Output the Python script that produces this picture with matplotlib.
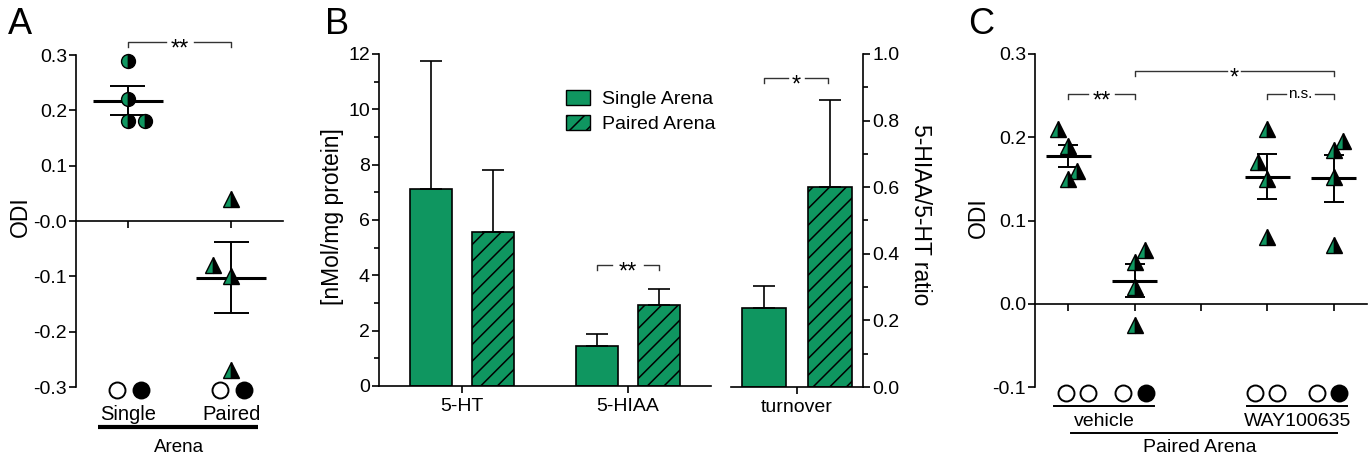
import numpy as np
import matplotlib.pyplot as plt
from matplotlib.patches import Patch
from matplotlib.transforms import offset_copy

plt.rcParams['font.family'] = ['Liberation Sans', 'DejaVu Sans']
plt.rcParams['hatch.linewidth'] = 1.1
plt.rcParams['axes.linewidth'] = 1.2

GREEN = '#0f9660'
W, H = 1371, 459

# --- panel A: ODI single vs paired arena ---
a_groups = ['Single', 'Paired']
a_single = [0.29, 0.22, 0.18, 0.18]
a_single_dx = [0.0, 0.0, 0.0, 0.17]
a_paired = [0.04, -0.08, -0.10, -0.27]
a_paired_dx = [0.0, -0.18, 0.0, 0.0]

# --- panel B: monoamine levels ---
b_cats = ['5-HT', '5-HIAA']
b_single = [7.11, 1.45]
b_single_err = [11.75, 1.87]
b_paired = [5.58, 2.93]
b_paired_err = [7.82, 3.49]
turn_cat = 'turnover'
turn_single, turn_single_err = 0.236, 0.304
turn_paired, turn_paired_err = 0.60, 0.862

# --- panel C: ODI in paired arena, vehicle vs WAY100635 ---
c_pos = [1, 2, 4, 5]
c_vals = [
    [0.21, 0.19, 0.16, 0.15],
    [0.065, 0.05, 0.02, -0.025],
    [0.21, 0.17, 0.15, 0.08],
    [0.195, 0.185, 0.152, 0.07],
]
c_dx = [
    [-0.15, 0.0, 0.135, 0.0],
    [0.15, 0.0, 0.0, 0.0],
    [0.0, -0.135, 0.0, 0.0],
    [0.135, 0.0, 0.0, 0.0],
]
c_pair_centers = [1.13, 2.0, 3.98, 4.91]
c_pair_right_filled = [False, True, False, True]


def px_axes(fig, x0, y0, x1, y1):
    return fig.add_axes([x0 / W, 1 - y1 / H, (x1 - x0) / W, (y1 - y0) / H])


def mean_sem(ax, x, vals, half_w, cap_w):
    v = np.array(vals)
    m = v.mean()
    s = v.std(ddof=1) / np.sqrt(len(v))
    ax.hlines(m, x - half_w, x + half_w, color='black', lw=2.2, zorder=4)
    ax.vlines(x, m - s, m + s, color='black', lw=1.4, zorder=4)
    ax.hlines([m - s, m + s], x - cap_w, x + cap_w, color='black', lw=1.4, zorder=4)


def bracket(ax, x0, x1, y, drop, label, gap_px, size=17, shift=-10.0):
    # bracket line split around the label, gap given in pixels
    xc = (x0 + x1) / 2
    cx = ax.transData.transform((xc, y))[0]
    inv = ax.transData.inverted()
    gl = inv.transform((cx - gap_px, 0))[0]
    gr = inv.transform((cx + gap_px, 0))[0]
    kw = dict(color='#333333', lw=1.0, clip_on=False)
    ax.plot([x0, x0, gl], [y - drop, y, y], **kw)
    ax.plot([gr, x1, x1], [y, y, y - drop], **kw)
    tr = offset_copy(ax.transData, fig=ax.figure, y=shift, units='points')
    ax.text(xc, y, label, ha='center', va='baseline', fontsize=size,
            transform=tr, clip_on=False)


def half_markers(ax, xs, ys, marker, ms):
    ax.plot(xs, ys, marker, linestyle='none', fillstyle='left', ms=ms,
            markerfacecolor=GREEN, markerfacecoloralt='black',
            markeredgecolor='black', mew=1.0, zorder=5, clip_on=False)


def arena_circles(ax, xc, y, filled, sep, ms=11.5):
    ax.plot(xc - sep, y, 'o', ms=ms, mfc='white', mec='black', mew=1.4, clip_on=False)
    ax.plot(xc + sep, y, 'o', ms=ms, mfc='black' if filled else 'white',
            mec='black', mew=1.4, clip_on=False)


fig = plt.figure(figsize=(W / 100, H / 100), dpi=100)

# ---------------- A ----------------
ax = px_axes(fig, 76, 55, 283, 387)
ax.set_xlim(0.5, 2.5)
ax.set_ylim(-0.3, 0.3)
ax.spines['top'].set_visible(False)
ax.spines['right'].set_visible(False)
ax.spines['bottom'].set_position(('data', 0))
ax.set_yticks([0.3, 0.2, 0.1, 0.0, -0.1, -0.2, -0.3])
ax.set_yticklabels(['0.3', '0.2', '0.1', '-0.0', '-0.1', '-0.2', '-0.3'])
ax.set_xticks([1, 2])
ax.set_xticklabels(['', ''])
ax.tick_params(labelsize=14, length=5, width=1.2, direction='out', pad=1.5)

half_markers(ax, 1 + np.array(a_single_dx), a_single, 'o', 10)
half_markers(ax, 2 + np.array(a_paired_dx), a_paired, '^', 11)
mean_sem(ax, 1, a_single, 0.34, 0.17)
mean_sem(ax, 2, a_paired, 0.34, 0.17)
bracket(ax, 1, 2, 0.3235, 0.009, '**', 14)

for i, name in enumerate(a_groups):
    arena_circles(ax, [0.9, 1.9][i] + 0.11, -0.306, True, 0.115)
    ax.text(i + 1, -0.349, name, ha='center', va='center', fontsize=14.5, clip_on=False)
ax.plot([0.71, 2.26], [-0.373, -0.373], color='black', lw=3, clip_on=False,
        solid_capstyle='butt')
ax.text(1.5, -0.409, 'Arena', ha='center', va='center', fontsize=13.5)
fig.text(20 / W, 1 - 217 / H, 'ODI', rotation=90, ha='center', va='center', fontsize=16.5)
fig.text(8 / W, 1 - 24 / H, 'A', ha='left', va='center', fontsize=26)

# ---------------- B (left: concentrations) ----------------
bw, off = 0.255, 0.187
ax = px_axes(fig, 379, 54, 711, 386)
ax.set_xlim(-0.5, 1.5)
ax.set_ylim(0, 12)
ax.spines['top'].set_visible(False)
ax.spines['right'].set_visible(False)
x = np.arange(len(b_cats))
ax.bar(x - off, b_single, bw, color=GREEN, edgecolor='black', lw=1.2, zorder=2)
ax.bar(x + off, b_paired, bw, color=GREEN, edgecolor='black', lw=1.2, hatch='//', zorder=2)
ax.errorbar(x - off, b_single, yerr=[np.zeros(2), np.array(b_single_err) - b_single],
            fmt='none', ecolor='black', elinewidth=1.2, capsize=8, capthick=1.2, zorder=3)
ax.errorbar(x + off, b_paired, yerr=[np.zeros(2), np.array(b_paired_err) - b_paired],
            fmt='none', ecolor='black', elinewidth=1.2, capsize=8, capthick=1.2, zorder=3)
ax.set_xticks(x)
ax.set_xticklabels(b_cats)
ax.set_yticks(range(0, 13, 2))
ax.set_yticks(range(1, 12, 2), minor=True)
ax.tick_params(labelsize=14, length=5, width=1.2)
ax.tick_params(axis='y', pad=1.5)
ax.tick_params(which='minor', length=3.5, width=1.2)
bracket(ax, 1 - off, 1 + off, 4.37, 0.18, '**', 16)
fig.text(333 / W, 1 - 217 / H, '[nMol/mg protein]', rotation=90, ha='center',
         va='center', fontsize=16.5)
fig.text(325 / W, 1 - 24 / H, 'B', ha='left', va='center', fontsize=26)

handles = [Patch(facecolor=GREEN, edgecolor='black', label='Single Arena'),
           Patch(facecolor=GREEN, edgecolor='black', hatch='//', label='Paired Arena')]
fig.legend(handles=handles, loc='upper left', bbox_to_anchor=(566 / W, 1 - 90 / H),
           frameon=False, fontsize=14, handlelength=1.25, handleheight=0.8,
           handletextpad=0.6, labelspacing=0.35, borderpad=0, borderaxespad=0)

# ---------------- B (right: turnover ratio) ----------------
ax = px_axes(fig, 731, 54, 863, 387)
ax.set_xlim(-0.4, 0.4)
ax.set_ylim(0, 1)
ax.spines['top'].set_visible(False)
ax.spines['left'].set_visible(False)
ax.yaxis.tick_right()
ax.bar([-0.2], [turn_single], 0.265, color=GREEN, edgecolor='black', lw=1.2, zorder=2)
ax.bar([0.2], [turn_paired], 0.265, color=GREEN, edgecolor='black', lw=1.2, hatch='//', zorder=2)
ax.errorbar([-0.2, 0.2], [turn_single, turn_paired],
            yerr=[[0, 0], [turn_single_err - turn_single, turn_paired_err - turn_paired]],
            fmt='none', ecolor='black', elinewidth=1.2, capsize=8, capthick=1.2, zorder=3)
ax.set_xticks([0])
ax.set_xticklabels([turn_cat])
ax.set_yticks(np.arange(0, 1.01, 0.2))
ax.set_yticklabels(['0.0', '0.2', '0.4', '0.6', '0.8', '1.0'])
ax.set_yticks(np.arange(0.1, 1.0, 0.2), minor=True)
ax.tick_params(labelsize=14, length=5, width=1.2)
ax.tick_params(axis='y', pad=1.5)
ax.tick_params(which='minor', length=3.5, width=1.2)
bracket(ax, -0.2, 0.19, 0.928, 0.015, '*', 8.5)
fig.text(920 / W, 1 - 215 / H, '5-HIAA/5-HT ratio', rotation=-90, ha='center',
         va='center', fontsize=16.5)

# ---------------- C ----------------
ax = px_axes(fig, 1035, 54, 1367, 387)
ax.set_xlim(0.5, 5.5)
ax.set_ylim(-0.1, 0.3)
ax.spines['top'].set_visible(False)
ax.spines['right'].set_visible(False)
ax.spines['bottom'].set_position(('data', 0))
ax.set_yticks([0.3, 0.2, 0.1, 0.0, -0.1])
ax.set_yticklabels(['0.3', '0.2', '0.1', '0.0', '-0.1'])
ax.set_xticks([1, 2, 3, 4, 5])
ax.set_xticklabels([''] * 5)
ax.tick_params(labelsize=14, length=5, width=1.2, direction='out', pad=1.5)

for p, vals, dx in zip(c_pos, c_vals, c_dx):
    half_markers(ax, p + np.array(dx), vals, '^', 11)
    mean_sem(ax, p, vals, 0.34, 0.15)

bracket(ax, 1, 2, 0.252, 0.006, '**', 13.5)
bracket(ax, 2, 5, 0.28, 0.006, '*', 7)
bracket(ax, 4, 5, 0.252, 0.006, 'n.s.', 14.5, size=11, shift=-2.8)

for xc, filled in zip(c_pair_centers, c_pair_right_filled):
    arena_circles(ax, xc, -0.107, filled, 0.17)
ax.plot([0.786, 2.29], [-0.1228, -0.1228], color='black', lw=1.4, clip_on=False)
ax.plot([3.69, 5.2], [-0.1228, -0.1228], color='black', lw=1.4, clip_on=False)
ax.text(1.55, -0.142, 'vehicle', ha='center', va='center', fontsize=14)
ax.text(4.46, -0.142, 'WAY100635', ha='center', va='center', fontsize=14)
ax.plot([1.04, 5.05], [-0.155, -0.155], color='black', lw=1.4, clip_on=False)
ax.text(2.98, -0.173, 'Paired Arena', ha='center', va='center', fontsize=14)
fig.text(978 / W, 1 - 218 / H, 'ODI', rotation=90, ha='center', va='center', fontsize=16.5)
fig.text(968 / W, 1 - 24 / H, 'C', ha='left', va='center', fontsize=26)

fig.savefig('out.png', dpi=100)
